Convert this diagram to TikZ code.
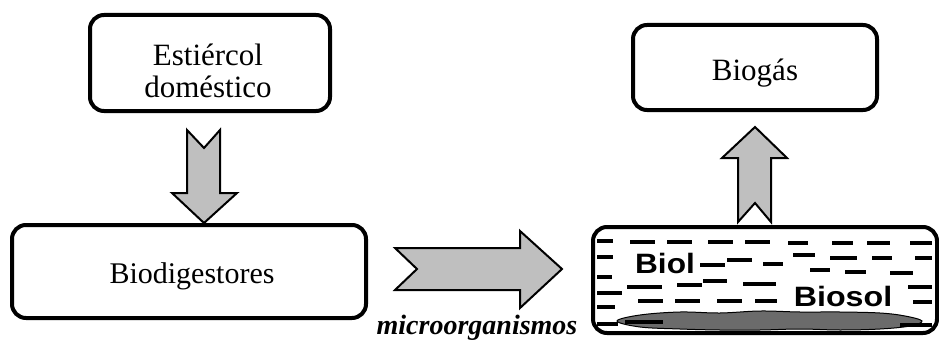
\documentclass[tikz,border=0pt]{standalone}
\usepackage{fontspec}
\usepackage{graphicx}
\setmainfont{Liberation Serif}
\newfontfamily\labfont{Liberation Sans}
\begin{document}
\begin{tikzpicture}[x=1pt,y=-1pt,
  boxst/.style={draw=black,line width=4pt,rounded corners=14pt},
  arrowst/.style={draw=black,fill=black!25,line width=2pt,line join=miter},
  dashst/.style={line width=4pt,line cap=butt},
  boxtext/.style={font=\fontsize{30}{32}\selectfont,align=center,inner sep=0pt},
  labtext/.style={font=\labfont\bfseries\fontsize{28}{30}\selectfont,inner sep=0pt,anchor=base}]
\useasboundingbox (0,0) rectangle (939,345);
% boxes
\draw[boxst] (90,15) rectangle (330,111);
\node[boxtext,font=\fontsize{31}{32}\selectfont,anchor=base] (est) at (208,97) {Estiércol\\doméstico};
\draw[boxst] (12,225) rectangle (366,318);
\node[boxtext,anchor=base] (bio) at (192,283) {Biodigestores};
\draw[boxst] (633,25) rectangle (877,110);
\node[boxtext,anchor=base,font=\fontsize{31}{32}\selectfont] (gas) at (755,81) {Biogás};
% tank
\draw[boxst] (593,227) rectangle (937,333);
% arrows
\draw[arrowst] (187,130) -- (204,148) -- (220,130) -- (220,193) -- (237,193) -- (204,223) -- (172,193) -- (187,193) -- cycle;
\draw[arrowst] (395,248) -- (520,248) -- (520,231) -- (562,269) -- (520,308) -- (520,290) -- (395,290) -- (417,269) -- cycle;
\draw[arrowst] (738,222) -- (738,158) -- (722,158) -- (755,127) -- (787,158) -- (771,158) -- (771,222) -- (755,203) -- cycle;
\node[font=\bfseries\itshape\fontsize{28}{30}\selectfont,anchor=base,inner sep=0pt] (micro) at (477,334) {microorganismos};
% blob
\draw[fill=black!58,line width=1pt] plot[smooth cycle,tension=0.6] coordinates {(617,321) (640,315) (680,312) (720,313) (760,311) (800,312) (840,312) (880,313) (905,316) (922,321) (910,326) (880,329) (840,330) (800,329) (760,330) (720,330) (680,329) (640,327)};
% dashes
\foreach \a/\b/\c in {597/613/241,597/613/257,597/612/277,597/622/293,597/615/307,597/618/324,
  630/655/242,667/692/242,708/733/242,745/770/242,788/808/243,832/853/243,867/890/243,910/932/243,
  793/815/255,830/857/258,872/892/258,915/932/258,
  700/725/265,727/752/260,763/783/264,810/830/270,845/866/272,890/913/273,
  627/662/287,677/702/285,703/727/281,743/776/284,908/932/287,
  638/663/301,675/700/301,717/742/301,755/777/301,913/932/302,
  625/663/322,900/932/325}
  \draw[dashst] (\a,\c) -- (\b,\c);
\node[labtext] (biol) at (665,273) {\scalebox{1.13}[1]{Biol}};
\node[labtext] (biosol) at (843,306) {\scalebox{1.15}[1]{Biosol}};
\end{tikzpicture}
\end{document}
